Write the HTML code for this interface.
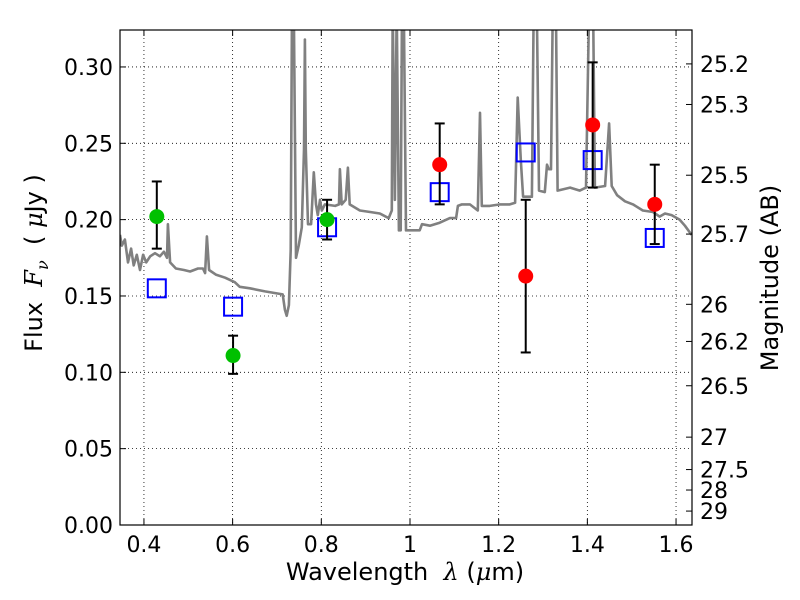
<!DOCTYPE html>
<html><head><meta charset="utf-8"><style>
body{margin:0;background:#fff}
svg{display:block;font-family:"DejaVu Sans","Liberation Sans",sans-serif}
</style></head><body>
<svg id="chart" width="800" height="600" viewBox="0 0 800 600"></svg>
<script>
const specLam=[0.346,0.350,0.357,0.364,0.371,0.377,0.384,0.391,0.398,0.405,0.414,0.425,0.436,0.445,0.452,0.454,0.459,0.472,0.490,0.504,0.522,0.533,0.538,0.542,0.547,0.562,0.583,0.605,0.616,0.639,0.673,0.713,0.718,0.722,0.727,0.731,0.734,0.738,0.743,0.749,0.756,0.761,0.763,0.765,0.770,0.777,0.783,0.788,0.792,0.797,0.801,0.808,0.831,0.840,0.842,0.846,0.855,0.860,0.864,0.887,0.910,0.932,0.952,0.959,0.961,0.966,0.970,0.975,0.979,0.982,0.986,0.991,1.011,1.022,1.027,1.045,1.067,1.090,1.104,1.108,1.117,1.135,1.153,1.158,1.162,1.180,1.203,1.225,1.237,1.243,1.250,1.255,1.275,1.279,1.286,1.291,1.304,1.309,1.313,1.318,1.322,1.329,1.333,1.361,1.383,1.397,1.404,1.413,1.417,1.440,1.449,1.455,1.467,1.485,1.503,1.525,1.548,1.563,1.575,1.590,1.608,1.620,1.635];
const specFlux=[0.190,0.183,0.187,0.172,0.181,0.170,0.177,0.167,0.177,0.172,0.176,0.178,0.176,0.179,0.175,0.197,0.172,0.168,0.167,0.166,0.168,0.168,0.165,0.189,0.167,0.164,0.162,0.159,0.156,0.155,0.153,0.151,0.141,0.137,0.144,0.180,0.34,0.34,0.175,0.183,0.195,0.246,0.318,0.246,0.197,0.197,0.231,0.210,0.203,0.213,0.206,0.210,0.209,0.210,0.233,0.210,0.213,0.234,0.210,0.206,0.205,0.204,0.201,0.206,0.34,0.213,0.34,0.193,0.193,0.34,0.34,0.193,0.193,0.193,0.197,0.196,0.198,0.201,0.201,0.209,0.210,0.210,0.206,0.270,0.209,0.209,0.210,0.210,0.211,0.280,0.239,0.215,0.215,0.34,0.34,0.219,0.218,0.236,0.233,0.233,0.34,0.34,0.219,0.221,0.219,0.221,0.34,0.34,0.221,0.222,0.263,0.222,0.216,0.212,0.210,0.206,0.205,0.202,0.204,0.203,0.200,0.196,0.190];
const greenLam=[0.429,0.601,0.813];
const greenFlux=[0.202,0.111,0.200];
const greenHi=[0.225,0.124,0.213];
const greenLo=[0.181,0.099,0.187];
const redLam=[1.067,1.261,1.412,1.552];
const redFlux=[0.236,0.163,0.262,0.210];
const redHi=[0.263,0.213,0.303,0.236];
const redLo=[0.210,0.113,0.221,0.184];
const modelLam=[0.429,0.601,0.813,1.067,1.261,1.412,1.552];
const modelFlux=[0.155,0.143,0.195,0.218,0.244,0.239,0.188];
const xTicks=[0.4,0.6,0.8,1.0,1.2,1.4,1.6];
const xTickLabels=["0.4","0.6","0.8","1","1.2","1.4","1.6"];
const yTicks=[0,0.05,0.10,0.15,0.20,0.25,0.30];
const yTickLabels=["0.00","0.05","0.10","0.15","0.20","0.25","0.30"];
const magTicks=[25.2,25.3,25.5,25.7,26,26.2,26.5,27,27.5,28,29];
const magLabels=["25.2","25.3","25.5","25.7","26","26.2","26.5","27","27.5","28","29"];

const L=120,R=692,T=30,B=525;
const X0=0.346,X1=1.636,Y0=0,Y1=0.3242;
const sx=v=>L+(v-X0)/(X1-X0)*(R-L);
const sy=v=>B-(v-Y0)/(Y1-Y0)*(B-T);
const magToFlux=m=>Math.pow(10,(23.9-m)/2.5);
const svg=document.getElementById('chart');
const NS='http://www.w3.org/2000/svg';
function mk(tag,attrs,parent){const e=document.createElementNS(NS,tag);for(const k in attrs)e.setAttribute(k,attrs[k]);(parent||svg).appendChild(e);return e;}

const defs=mk('defs',{});
const cp=mk('clipPath',{id:'clip'},defs);
mk('rect',{x:L,y:T,width:R-L,height:B-T},cp);

const grid=mk('g',{stroke:'#000','stroke-width':0.8,'stroke-dasharray':'1,3'});


xTicks.forEach(v=>mk('line',{x1:sx(v),x2:sx(v),y1:T,y2:B},grid));
yTicks.forEach(v=>mk('line',{x1:L,x2:R,y1:sy(v),y2:sy(v)},grid));

const pts=specLam.map((l,i)=>sx(l).toFixed(1)+','+sy(specFlux[i]).toFixed(1)).join(' ');
const sp=mk('polyline',{points:pts,fill:'none',stroke:'#808080','stroke-width':2.6,'clip-path':'url(#clip)','stroke-linejoin':'round'});



modelLam.forEach((l,i)=>{
 const r=mk('rect',{x:sx(l)-9,y:sy(modelFlux[i])-9,width:18,height:18,fill:'none',stroke:'#0000ff','stroke-width':2});
 
 
});

function points(lam,flux,hi,lo,color,name){
 lam.forEach((l,i)=>{
  const g=mk('g',{stroke:'#000','stroke-width':2});
  
  
  const x=sx(l);
  mk('line',{x1:x,x2:x,y1:sy(hi[i]),y2:sy(lo[i])},g);
  mk('line',{x1:x-5,x2:x+5,y1:sy(hi[i]),y2:sy(hi[i])},g);
  mk('line',{x1:x-5,x2:x+5,y1:sy(lo[i]),y2:sy(lo[i])},g);
  const c=mk('circle',{cx:x,cy:sy(flux[i]),r:7.5,fill:color});
  
  
 });
}
points(greenLam,greenFlux,greenHi,greenLo,'#00c000','hst-flux');
points(redLam,redFlux,redHi,redLo,'#ff0000','ir-flux');

const fr=mk('rect',{x:L,y:T,width:R-L,height:B-T,fill:'none',stroke:'#000','stroke-width':1.2});



const tk=mk('g',{stroke:'#000','stroke-width':1});
xTicks.forEach(v=>{mk('line',{x1:sx(v),x2:sx(v),y1:B,y2:B-6},tk);mk('line',{x1:sx(v),x2:sx(v),y1:T,y2:T+6},tk);});
yTicks.forEach(v=>mk('line',{x1:L,x2:L+6,y1:sy(v),y2:sy(v)},tk));
magTicks.forEach(m=>mk('line',{x1:R,x2:R-6,y1:sy(magToFlux(m)),y2:sy(magToFlux(m))},tk));

const lab=mk('g',{'font-size':22,fill:'#000'});
xTicks.forEach((v,i)=>{const t=mk('text',{x:sx(v),y:B+27,'text-anchor':'middle'},lab);t.textContent=xTickLabels[i];
 });
yTicks.forEach((v,i)=>{const t=mk('text',{x:L-7,y:sy(v)+8,'text-anchor':'end'},lab);t.textContent=yTickLabels[i];
 });
magTicks.forEach((m,i)=>{const t=mk('text',{x:R+8,y:sy(magToFlux(m))+8,'text-anchor':'start'},lab);t.textContent=magLabels[i];
 });
</script>
<div style="position:absolute;left:0;top:0;width:800px;height:600px;pointer-events:none;font-family:'DejaVu Sans','Liberation Sans',sans-serif;font-size:24px">
 <div style="position:absolute;left:405px;top:572px;white-space:nowrap;transform:translate(-50%,-50%)">Wavelength&nbsp; <i style="font-family:'DejaVu Serif',serif">λ</i> (<i style="font-family:'DejaVu Serif',serif">μ</i>m)</div>
 <div style="position:absolute;left:36px;top:263px;white-space:nowrap;transform:translate(-50%,-50%) rotate(-90deg)">Flux&nbsp; <i style="font-family:'DejaVu Serif',serif">F<sub style="font-size:16px">ν</sub></i>&nbsp; ( <i style="font-family:'DejaVu Serif',serif">μ</i>Jy )</div>
 <div style="position:absolute;left:770px;top:278px;white-space:nowrap;transform:translate(-50%,-50%) rotate(-90deg)">Magnitude (AB)</div>
</div>
</body></html>
